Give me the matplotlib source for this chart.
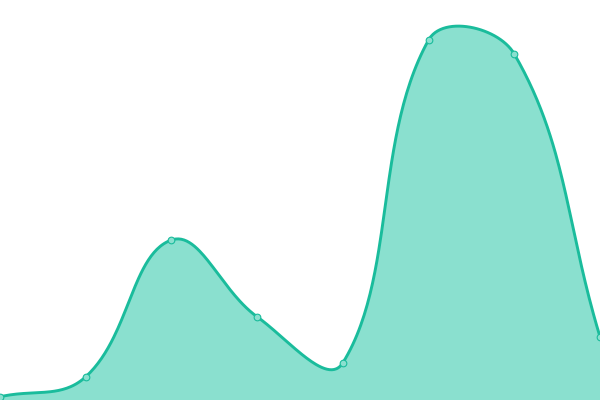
import matplotlib
matplotlib.use("Agg")
import matplotlib.pyplot as plt
import numpy as np

LINE = "#1abc9c"
FILL = "#8ae0cf"

W, H = 600, 400

labels = ["A", "B", "C", "D", "E", "F", "G", "H"]
values = [0.8, 5.8, 40.0, 20.8, 9.3, 90.0, 86.5, 15.8]
YMAX = 100
TENSION = 0.4


def spline_controls(px, py, t):
    # Chart.js style cubic control points, computed in pixel space
    n = len(px)
    c_prev, c_next = [], []
    for i in range(n):
        p0 = (px[max(i - 1, 0)], py[max(i - 1, 0)])
        p1 = (px[i], py[i])
        p2 = (px[min(i + 1, n - 1)], py[min(i + 1, n - 1)])
        d01 = np.hypot(p1[0] - p0[0], p1[1] - p0[1])
        d12 = np.hypot(p2[0] - p1[0], p2[1] - p1[1])
        tot = d01 + d12
        s01 = d01 / tot if tot else 0
        s12 = d12 / tot if tot else 0
        fa, fb = t * s01, t * s12
        dx, dy = p2[0] - p0[0], p2[1] - p0[1]
        c_prev.append((p1[0] - fa * dx, p1[1] - fa * dy))
        c_next.append((p1[0] + fb * dx, p1[1] + fb * dy))
    return c_prev, c_next


def bezier_curve(px, py, t, steps=60):
    c_prev, c_next = spline_controls(px, py, t)
    xs, ys = [], []
    s = np.linspace(0, 1, steps)
    for i in range(len(px) - 1):
        P0 = np.array([px[i], py[i]])
        P1 = np.array(c_next[i])
        P2 = np.array(c_prev[i + 1])
        P3 = np.array([px[i + 1], py[i + 1]])
        pts = ((1 - s) ** 3)[:, None] * P0 + (3 * (1 - s) ** 2 * s)[:, None] * P1 \
            + (3 * (1 - s) * s ** 2)[:, None] * P2 + (s ** 3)[:, None] * P3
        pts[:, 1] = np.clip(pts[:, 1], 0, H)
        xs.extend(pts[:, 0])
        ys.extend(pts[:, 1])
    return np.array(xs), np.array(ys)


fig = plt.figure(figsize=(6, 4), dpi=100)
ax = fig.add_axes([0, 0, 1, 1])
n = len(values) - 1
ax.set_xlim(0, n)
ax.set_ylim(0, YMAX)
ax.axis("off")

x = np.arange(len(values))
px = x / n * W
py = np.array(values) / YMAX * H
cx, cy = bezier_curve(px, py, TENSION)
cx = cx / W * n
cy = cy / H * YMAX

ax.fill_between(cx, 0, cy, color=FILL, lw=0, zorder=1)
ax.plot(cx, cy, color=LINE, lw=2.1, solid_capstyle="round", zorder=2)
ax.plot(x, values, "o", ms=4.8, mfc=FILL, mec=LINE, mew=0.8, zorder=3,
        clip_on=True)

fig.savefig("out.png", dpi=100, facecolor="white")
